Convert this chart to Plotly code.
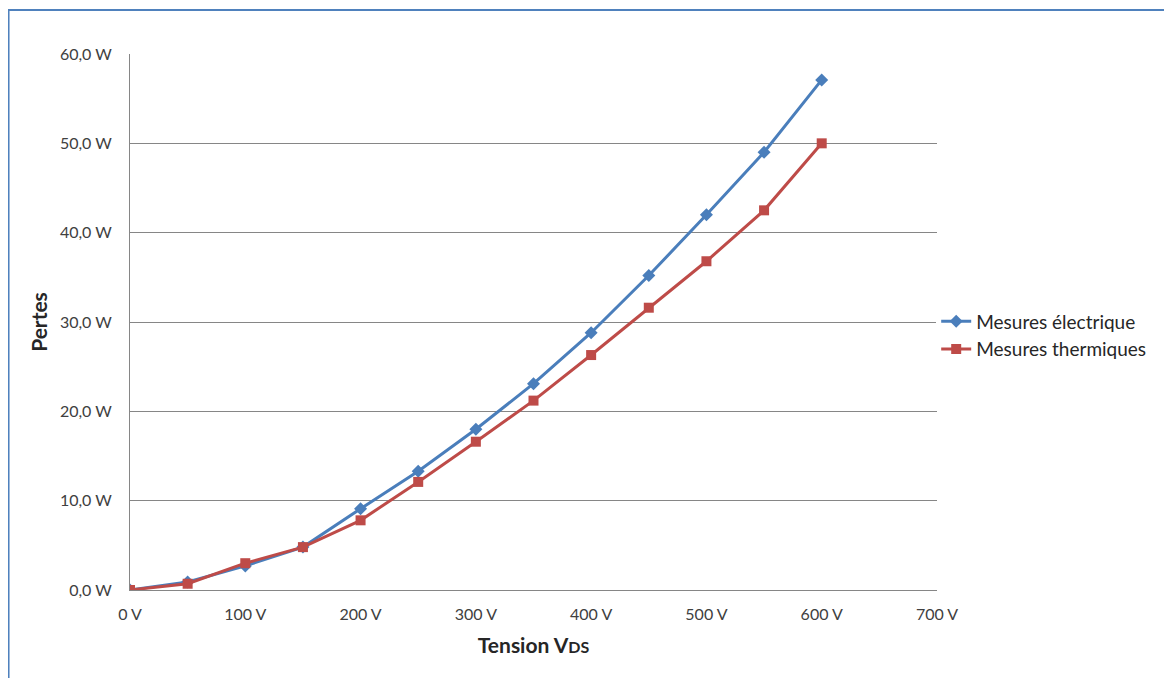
import plotly.graph_objects as go

# Tension VDS (V)
tension = [0, 50, 100, 150, 200, 250, 300, 350, 400, 450, 500, 550, 600]

# Pertes (W)
mesures_electrique = [0.0, 0.9, 2.7, 4.8, 9.1, 13.3, 18.0, 23.1, 28.8, 35.2, 42.0, 49.0, 57.1]
mesures_thermiques = [0.0, 0.7, 3.0, 4.8, 7.8, 12.1, 16.6, 21.2, 26.3, 31.6, 36.8, 42.5, 50.0]

x_ticks = [0, 100, 200, 300, 400, 500, 600, 700]
y_ticks = [0, 10, 20, 30, 40, 50, 60]

fig = go.Figure()

fig.add_trace(go.Scatter(
    x=tension, y=mesures_electrique, name='Mesures électrique',
    mode='lines+markers',
    line=dict(color='#4a7ebb', width=3),
    marker=dict(symbol='diamond', size=10, color='#4a7ebb')
))
fig.add_trace(go.Scatter(
    x=tension, y=mesures_thermiques, name='Mesures thermiques',
    mode='lines+markers',
    line=dict(color='#be4b48', width=3),
    marker=dict(symbol='square', size=10, color='#be4b48')
))

# blue frame around the whole chart (Excel chart border)
fig.add_shape(type='rect', xref='paper', yref='paper',
              x0=-0.1505, x1=1.31, y0=-0.2, y1=1.082,
              line=dict(color='#4f81bd', width=2), layer='below')

fig.update_layout(
    width=1164, height=670,
    margin=dict(l=122, r=235, t=46, b=88),
    paper_bgcolor='white', plot_bgcolor='white',
    font=dict(family='Lato, Open Sans, sans-serif', size=16, color='#404040'),
    showlegend=True,
    legend=dict(x=0.999, y=0.475, xanchor='left', yanchor='middle',
                font=dict(size=19, color='#262626'),
                tracegroupgap=0, itemwidth=30),
    xaxis=dict(
        range=[0, 700], tickvals=x_ticks, ticktext=[f'{v} V' for v in x_ticks],
        showgrid=False, zeroline=False,
        showline=True, linecolor='#868686', linewidth=1,
        ticks='', ticklabelstandoff=10, tickfont=dict(size=16, color='#404040'),
        title=dict(text="<b>Tension V<span style='font-size:16px'>DS</span></b>",
                   font=dict(size=21, color='#262626'), standoff=16),
    ),
    yaxis=dict(
        range=[0, 60], tickvals=y_ticks,
        ticktext=[f'{v:.1f} W'.replace('.', ',') for v in y_ticks],
        showgrid=True, gridcolor='#868686', gridwidth=1,
        zeroline=False, showline=True, linecolor='#868686', linewidth=1,
        ticks='', ticklabelstandoff=14, tickfont=dict(size=16, color='#404040'),
        title=dict(text='<b>Pertes</b>', font=dict(size=21, color='#262626'), standoff=6),
    ),
)

fig.write_html("out.html")
